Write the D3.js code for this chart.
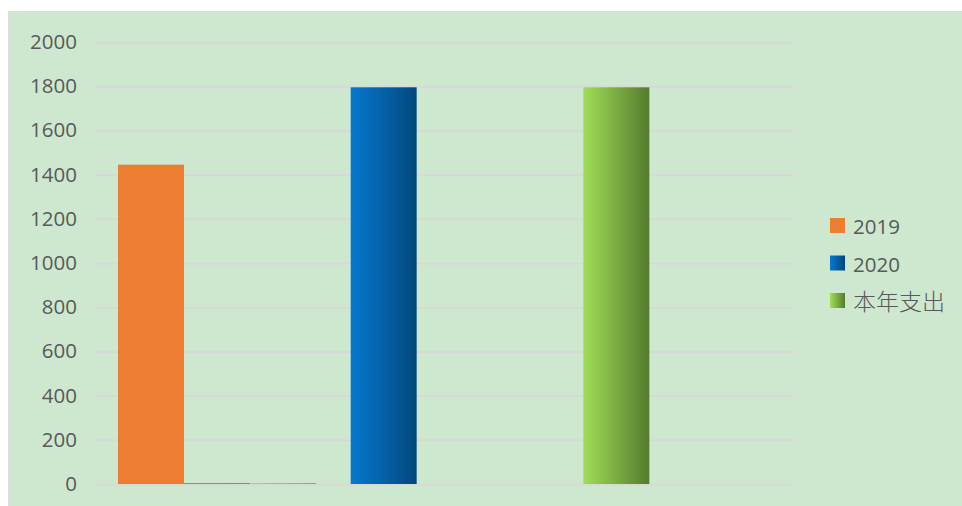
<!DOCTYPE html>
<html><head><meta charset="utf-8">
<script src="https://cdn.jsdelivr.net/npm/d3@7"></script>
<style>html,body{margin:0;padding:0;background:#fff;}svg{display:block;}</style>
</head><body>
<svg id="chart" width="962" height="506"></svg>
<script>
const categories = ["2019", "2020", "本年支出"];
const slotA = [1445, 1795, 1795];      // main bar in each category (coloured by category)
const slotB = [4, 0, 0];               // tiny 2020 bar
const slotC = [4, 0, 0];               // tiny 本年支出 bar
const yTicks = [0, 200, 400, 600, 800, 1000, 1200, 1400, 1600, 1800, 2000];
const legendLabels = ["2019", "2020", "本年支出"];

(function () {
const svg = d3.select("#chart");
const defs = svg.append("defs");
const grads = [
  {id: "g0", from: "#ED7D31", to: "#ED7D31"},
  {id: "g1", from: "#0679d0", to: "#02477c"},
  {id: "g2", from: "#a0de56", to: "#557b2e"},
  {id: "t1", from: "#3f94d6", to: "#4f86b3"},
  {id: "t2", from: "#a7d27a", to: "#8a9a70"}
];
grads.forEach(g => {
  const lg = defs.append("linearGradient").attr("id", g.id).attr("x1", "0").attr("x2", "1").attr("y1", "0").attr("y2", "0");
  lg.append("stop").attr("offset", "0%").attr("stop-color", g.from);
  lg.append("stop").attr("offset", "100%").attr("stop-color", g.to);
});

svg.append("rect").attr("x", 8.5).attr("y", 11.5).attr("width", 960).attr("height", 500)
  .attr("fill", "#cde8cf").attr("stroke", "#dcdcdc").attr("stroke-width", 1);

const pL = 95, pR = 793, pT = 42, pB = 484;
const y = d3.scaleLinear().domain([0, 2000]).range([pB, pT]);
const x = d3.scaleBand().domain(categories).range([pL, pR]).padding(0);
const slots = ["A", "B", "C"];
const xs = d3.scaleBand().domain(slots).range([0, x.step()]).paddingInner(0).paddingOuter(0.263).align(0.663);

const yAxis = d3.axisLeft(y).tickValues(yTicks).tickSize(-(pR - pL)).tickPadding(18).tickFormat(d3.format("d"));
const ga = svg.append("g").attr("transform", `translate(${pL},0)`).call(yAxis);
ga.select(".domain").remove();
ga.selectAll(".tick line").attr("stroke", "#d6d9d4").attr("stroke-width", 2);
ga.selectAll(".tick text").attr("fill", "#595959").attr("font-family", "'Open Sans', sans-serif").attr("font-size", 20.5).attr("x", -18);

const g = svg.append("g");
const rows = [
  {slot: "A", vals: slotA, fill: (i) => `url(#g${i})`},
  {slot: "B", vals: slotB, fill: () => "url(#t1)"},
  {slot: "C", vals: slotC, fill: () => "url(#t2)"}
];
rows.forEach(r => {
  g.selectAll(null).data(r.vals.map((v, i) => ({v, i, c: categories[i]})).filter(d => d.v > 0))
    .enter().append("rect")
    .attr("x", d => x(d.c) + xs(r.slot))
    .attr("width", xs.bandwidth())
    .attr("y", d => y(d.v))
    .attr("height", d => y(0) - y(d.v))
    .attr("fill", d => r.fill(d.i));
});

const lg = svg.append("g").attr("transform", "translate(830,218)");
legendLabels.forEach((t, i) => {
  const cjk = /[\u4e00-\u9fff]/.test(t);
  const row = lg.append("g").attr("transform", `translate(0,${i * 37.5})`);
  row.append("rect").attr("x", 0).attr("y", 0).attr("width", 15).attr("height", 15).attr("fill", `url(#g${i})`);
  row.append("text").attr("x", 23).attr("y", cjk ? 17 : 16).attr("fill", "#595959")
    .attr("font-family", cjk ? "'Noto Sans CJK SC', sans-serif" : "'Open Sans', sans-serif")
    .attr("font-weight", cjk ? 300 : 400)
    .attr("font-size", cjk ? 23 : 20.5).text(t);
});
})();
</script>
</body></html>
